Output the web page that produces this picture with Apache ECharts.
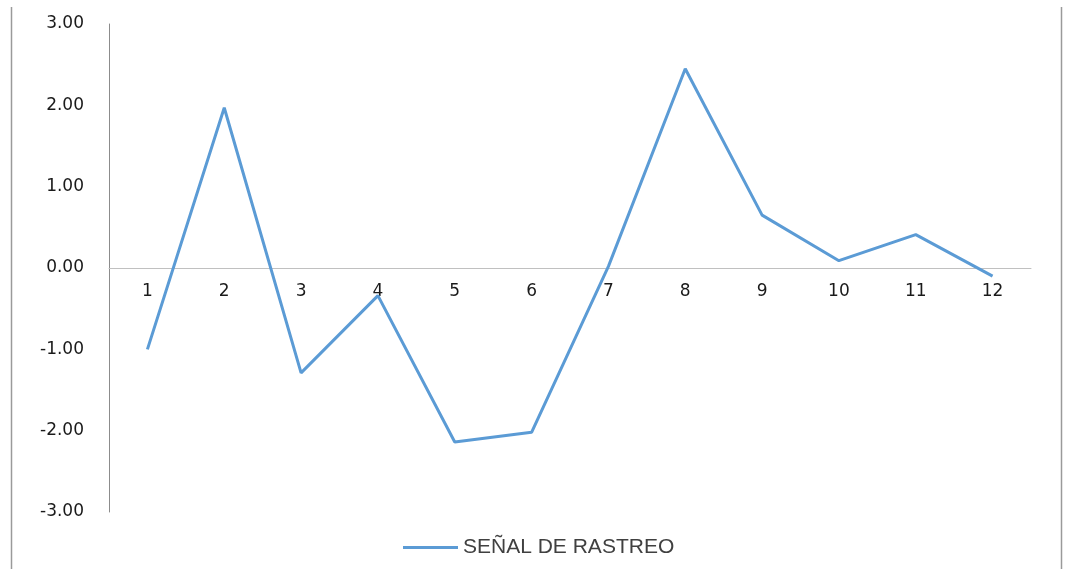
<!DOCTYPE html>
<html>
<head>
<meta charset="utf-8">
<script src="https://cdn.jsdelivr.net/npm/echarts@6/dist/echarts.min.js"></script>
<style>
  html, body { margin: 0; padding: 0; background: #fff; }
  #chart { width: 1067px; height: 569px; }
</style>
</head>
<body>
<div id="chart"></div>
<script>
// Periods and tracking-signal values
const periods = ['1', '2', '3', '4', '5', '6', '7', '8', '9', '10', '11', '12'];
const trackingSignal = [-1.00, 1.97, -1.29, -0.34, -2.14, -2.02, 0.02, 2.45, 0.65, 0.09, 0.41, -0.10];
const seriesName = 'SEÑAL DE RASTREO';
const yMin = -3;
const yMax = 3;

const chartHeight = 569;
const gridTop = 24;
const gridBottom = 57;
const plotHeight = chartHeight - gridTop - gridBottom;
// The category axis sits on the zero line of the value axis
const zeroOffset = -plotHeight * (0 - yMin) / (yMax - yMin);

const chart = echarts.init(document.getElementById('chart'), null, { renderer: 'canvas' });

chart.setOption({
  animation: false,
  backgroundColor: '#ffffff',
  graphic: [
    { type: 'line', shape: { x1: 11.5, y1: 7, x2: 11.5, y2: 569 }, style: { stroke: '#9a9a9a', lineWidth: 1.5 } },
    { type: 'line', shape: { x1: 1061.5, y1: 7, x2: 1061.5, y2: 569 }, style: { stroke: '#9a9a9a', lineWidth: 1.5 } }
  ],
  legend: {
    top: 532,
    left: 398,
    itemWidth: 55,
    itemHeight: 3,
    itemGap: 8,
    icon: 'rect',
    textStyle: { fontFamily: "'Liberation Sans'", fontSize: 21, color: '#404040', padding: [0, 0, 0, 0] },
    data: [seriesName]
  },
  grid: { left: 109, right: 36, top: gridTop, bottom: gridBottom, containLabel: false },
  xAxis: {
    type: 'category',
    data: periods,
    boundaryGap: true,
    offset: zeroOffset,
    axisLine: { onZero: false, lineStyle: { color: '#c0c0c0', width: 1 } },
    axisTick: { show: false },
    axisLabel: { margin: 15, fontFamily: "'DejaVu Sans'", fontSize: 17, color: '#1a1a1a' },
    splitLine: { show: false }
  },
  yAxis: {
    type: 'value',
    min: yMin,
    max: yMax,
    interval: 1,
    axisLine: { show: true, lineStyle: { color: '#8c8c8c', width: 1 } },
    axisTick: { show: false },
    splitLine: { show: false },
    axisLabel: {
      margin: 25,
      fontFamily: "'DejaVu Sans'",
      fontSize: 17,
      color: '#1a1a1a',
      formatter: v => v.toFixed(2)
    }
  },
  series: [{
    name: seriesName,
    type: 'line',
    data: trackingSignal,
    symbol: 'none',
    lineStyle: { color: '#5b9bd5', width: 3 },
    itemStyle: { color: '#5b9bd5' }
  }]
});
</script>
</body>
</html>
